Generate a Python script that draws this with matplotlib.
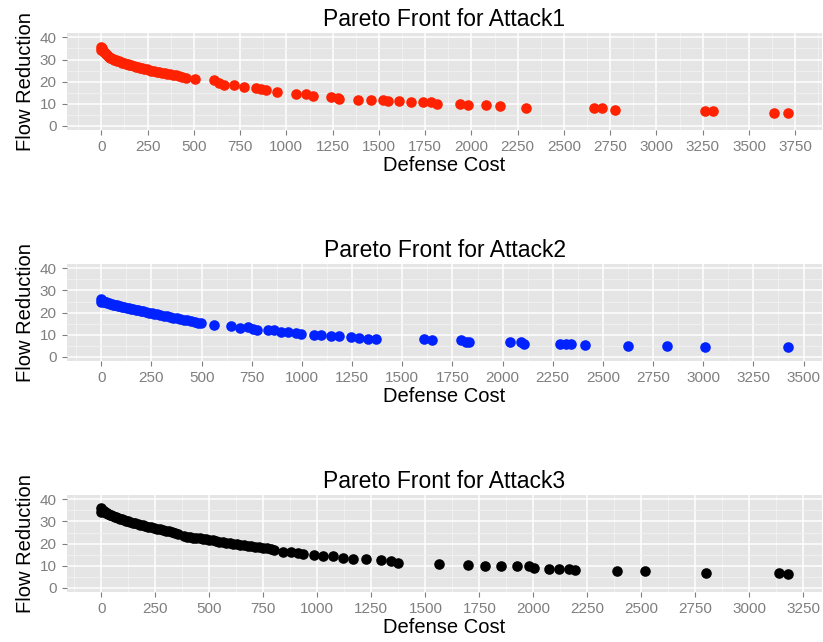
import numpy as np
import matplotlib.pyplot as plt
from matplotlib.ticker import MultipleLocator

plt.rcParams["font.family"] = ["Liberation Sans", "DejaVu Sans"]

# Attack1 (red)
cost1 = [0, 0, 2, 5, 8, 12, 16, 20, 25, 30, 36, 42, 48, 55, 62, 70, 78, 86, 95, 104,
         113, 122, 132, 142, 152, 163, 174, 185, 196, 208, 220, 232, 245, 258, 271,
         285, 299, 313, 327, 342, 357, 372, 388, 404, 420, 437, 455,
         504, 611, 638, 665, 719, 773, 836, 863, 890, 950, 1052, 1106, 1142, 1241,
         1277, 1286, 1385, 1457, 1520, 1547, 1610, 1673, 1736, 1784, 1813, 1939,
         1979, 2078, 2153, 2297, 2662, 2707, 2774, 3260, 3305, 3634, 3709]
flow1 = [35.8, 34.2, 35.2, 34.6, 34.0, 33.6, 33.2, 32.8, 32.4, 32.0, 31.6, 31.2, 30.9,
         30.6, 30.3, 30.0, 29.7, 29.4, 29.1, 28.8, 28.5, 28.3, 28.0, 27.8, 27.5, 27.3,
         27.0, 26.8, 26.5, 26.3, 26.0, 25.8, 25.5, 25.3, 25.0, 24.8, 24.5, 24.3, 24.0,
         23.8, 23.6, 23.3, 23.1, 22.8, 22.5, 22.1, 21.5,
         21.0, 20.6, 19.4, 18.2, 18.3, 17.6, 17.0, 16.8, 16.3, 15.3, 14.2, 14.4, 13.4,
         13.2, 12.4, 12.1, 11.8, 11.8, 11.6, 11.3, 11.1, 10.8, 10.8, 10.9, 9.8, 9.8,
         9.3, 9.2, 9.0, 8.2, 8.0, 7.9, 7.0, 6.7, 6.5, 5.9, 5.5]

# Attack2 (blue)
cost2 = [0, 0, 3, 7, 12, 17, 23, 29, 36, 43, 51, 59, 67, 76, 85, 95, 105, 115, 126,
         137, 148, 160, 172, 184, 197, 210, 223, 237, 251, 265, 280, 295, 310, 326,
         342, 358, 375, 392, 410, 428, 446, 465, 480,
         498, 564, 644, 689, 730, 755, 776, 829, 862, 896, 929, 971, 996, 1062, 1095,
         1145, 1186, 1244, 1286, 1327, 1369, 1606, 1646, 1792, 1817, 1834, 2036, 2090,
         2107, 2287, 2315, 2343, 2411, 2627, 2821, 3008, 3421]
flow2 = [26.0, 24.7, 25.4, 25.2, 25.0, 24.8, 24.6, 24.4, 24.2, 24.0, 23.8, 23.6, 23.4,
         23.2, 23.0, 22.8, 22.6, 22.4, 22.2, 22.0, 21.7, 21.5, 21.3, 21.0, 20.8, 20.5,
         20.3, 20.0, 19.8, 19.5, 19.2, 18.9, 18.6, 18.3, 18.0, 17.7, 17.4, 17.1, 16.8,
         16.4, 16.1, 15.7, 15.4,
         15.2, 14.4, 13.9, 13.2, 13.6, 12.4, 12.1, 12.0, 12.0, 11.3, 11.3, 10.8, 10.1,
         9.7, 9.7, 9.3, 9.3, 9.0, 8.5, 8.1, 7.8, 7.8, 7.5, 7.5, 6.7, 6.5, 6.6, 6.6,
         5.5, 5.5, 5.5, 5.5, 5.2, 4.9, 4.8, 4.5, 4.5]

# Attack3 (black)
cost3 = [0, 0, 3, 7, 11, 16, 21, 27, 33, 40, 47, 54, 62, 70, 78, 87, 96, 105, 115, 125,
         135, 146, 157, 168, 180, 192, 204, 217, 230, 243, 256, 270, 284, 298, 312,
         326, 340, 354, 385, 398, 412, 426, 440, 455, 470, 485, 500, 515, 530, 546,
         562, 578, 594, 610, 627, 644, 661, 678, 695, 713, 731, 749, 767, 785, 800,
         840, 878, 909, 932, 986, 1024, 1074, 1117, 1167, 1225, 1294, 1340, 1372,
         1564, 1695, 1776, 1852, 1922, 1980, 2003, 2073, 2119, 2165, 2192, 2386,
         2515, 2797, 3136, 3177]
flow3 = [35.9, 34.3, 35.2, 34.9, 34.6, 34.3, 34.0, 33.7, 33.4, 33.1, 32.8, 32.5, 32.2,
         31.9, 31.6, 31.3, 31.0, 30.7, 30.4, 30.1, 29.8, 29.5, 29.2, 28.9, 28.6, 28.3,
         28.0, 27.7, 27.4, 27.1, 26.8, 26.5, 26.2, 25.9, 25.6, 25.3, 24.9, 24.2, 23.4,
         23.1, 22.9, 22.7, 22.5, 22.3, 22.1, 21.9, 21.7, 21.4, 21.1, 20.8, 20.6, 20.4,
         20.1, 19.8, 19.6, 19.4, 19.2, 19.0, 18.8, 18.5, 18.3, 18.1, 17.8, 17.5, 17.2,
         16.1, 16.1, 15.8, 15.3, 15.0, 14.3, 14.3, 13.6, 13.1, 12.8, 12.4, 12.1, 11.3,
         10.5, 10.2, 9.8, 9.8, 9.8, 9.8, 9.0, 8.6, 8.6, 8.6, 7.9, 7.3, 7.3, 6.8, 6.5,
         6.0]

series = [
    ("Pareto Front for Attack1", cost1, flow1, "#FF2200"),
    ("Pareto Front for Attack2", cost2, flow2, "#0022FF"),
    ("Pareto Front for Attack3", cost3, flow3, "#000000"),
]

fig = plt.figure(figsize=(8.23, 6.42), dpi=100)
bottoms = [0.7975, 0.4377, 0.0779]

for (title, x, y, col), b in zip(series, bottoms):
    ax = fig.add_axes([0.0814, b, 0.9174, 0.151])
    ax.set_facecolor("#E5E5E5")
    for s in ax.spines.values():
        s.set_visible(False)

    # ggplot-style 5% expansion around the data
    xmax = max(x)
    pad = 0.05 * (xmax - min(x))
    ax.set_xlim(min(x) - pad, xmax + pad)
    ax.set_ylim(-2, 42)
    ax.xaxis.set_major_locator(MultipleLocator(250))
    ax.xaxis.set_minor_locator(MultipleLocator(125))
    ax.yaxis.set_major_locator(MultipleLocator(10))
    ax.yaxis.set_minor_locator(MultipleLocator(5))

    ax.grid(which="major", color="white", lw=1.1)
    ax.grid(which="minor", color="#F2F2F2", lw=0.6)
    ax.set_axisbelow(True)
    ax.tick_params(which="major", length=3.5, width=0.8, color="#7F7F7F",
                   labelcolor="#7F7F7F", labelsize=11, pad=4)
    ax.tick_params(which="minor", length=0)

    ax.scatter(x, y, s=58, color=col, lw=0, zorder=3)

    ax.set_title(title, fontsize=16.5, pad=5)
    ax.set_xlabel("Defense Cost", fontsize=14.5, labelpad=1)
    ax.set_ylabel("Flow Reduction", fontsize=14.5, labelpad=3)

fig.savefig("out.png", dpi=100)
